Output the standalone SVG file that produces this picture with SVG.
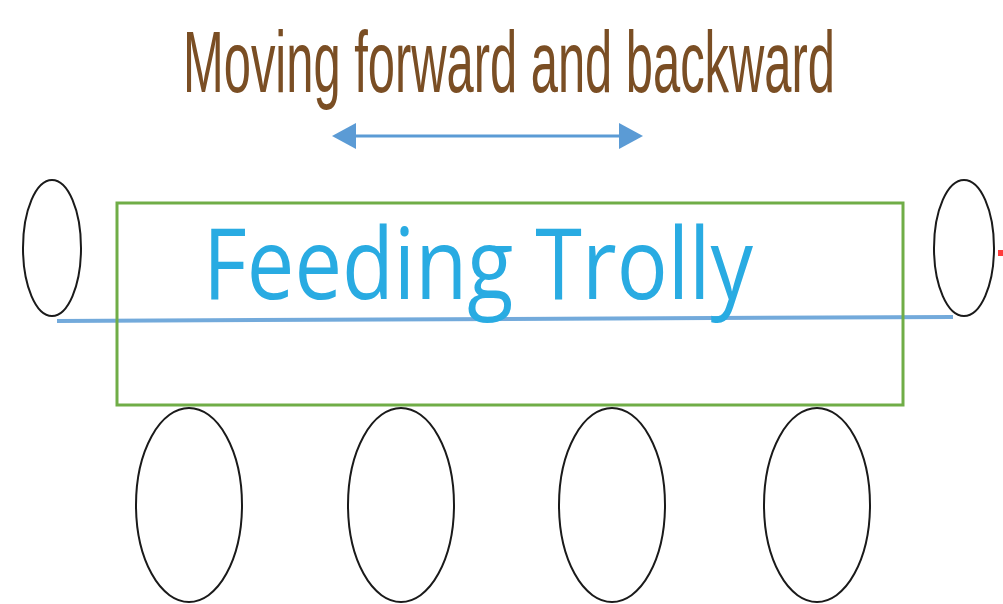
<svg xmlns="http://www.w3.org/2000/svg" width="1003" height="604" viewBox="0 0 1003 604">
<defs>
<style>
.wheel{fill:none;stroke:#1a1a1a;stroke-width:2}
.frame{fill:none;stroke:#70AD47;stroke-width:3}
.title{font-family:"Liberation Sans Narrow","Liberation Sans",Arial,sans-serif;fill:#7A4E24;font-size:88px}
.label{font-family:"Open Sans","Liberation Sans",Arial,sans-serif;fill:#29ABE2;font-size:98px}
.arrow{stroke:#5B9BD5;stroke-width:3;fill:none}
</style>
<marker id="ah" markerUnits="userSpaceOnUse" markerWidth="26" markerHeight="32" refX="2" refY="16" orient="auto-start-reverse">
<path d="M0,3 L24,16 L0,29 Z" fill="#5B9BD5"/>
</marker>
</defs>
<rect width="1003" height="604" fill="#ffffff"/>
<g id="title">
<text class="title" x="183" y="92" textLength="652" lengthAdjust="spacingAndGlyphs">Moving forward and backward</text>
</g>
<g id="connectors">
<line class="arrow" x1="354" y1="136" x2="621" y2="136" marker-start="url(#ah)" marker-end="url(#ah)"/>
<line x1="57" y1="321" x2="953" y2="317" stroke="#5B9BD5" stroke-width="4" stroke-opacity="0.85"/>
</g>
<g id="trolly">
<rect class="frame" x="117" y="203" width="786" height="202"/>
<text class="label" x="203" y="299" textLength="550" lengthAdjust="spacingAndGlyphs">Feeding Trolly</text>
</g>
<g id="roller-left"><ellipse class="wheel" cx="52" cy="248" rx="29" ry="68"/></g>
<g id="roller-right"><ellipse class="wheel" cx="964" cy="248" rx="30" ry="68"/></g>
<g id="wheel-1"><ellipse class="wheel" cx="189" cy="505" rx="53" ry="97"/></g>
<g id="wheel-2"><ellipse class="wheel" cx="401" cy="505" rx="53" ry="97"/></g>
<g id="wheel-3"><ellipse class="wheel" cx="612" cy="505" rx="53" ry="97"/></g>
<g id="wheel-4"><ellipse class="wheel" cx="817" cy="505" rx="53" ry="97"/></g>
<g id="red-mark"><rect x="998" y="250" width="5" height="6" fill="#ff3b3b"/></g>
</svg>
